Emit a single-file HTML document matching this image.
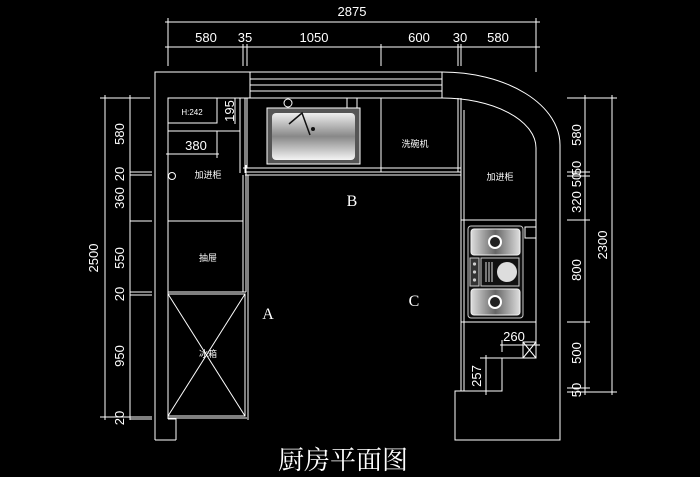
<!DOCTYPE html>
<html><head><meta charset="utf-8"><style>
html,body{margin:0;padding:0;background:#000;width:700px;height:477px;overflow:hidden}
svg{display:block}
text{fill:#fff;font-family:"Liberation Sans","Noto Sans CJK SC",sans-serif}
</style></head><body>
<svg width="700" height="477" viewBox="0 0 700 477" xmlns="http://www.w3.org/2000/svg">
<defs>
<linearGradient id="g" x1="0" y1="0" x2="0" y2="1"><stop offset="0" stop-color="#eee"/><stop offset=".5" stop-color="#888"/><stop offset="1" stop-color="#f4f4f4"/></linearGradient>
<linearGradient id="g2" x1="0" y1="0" x2="1" y2="0"><stop offset="0" stop-color="#ddd"/><stop offset=".5" stop-color="#666"/><stop offset="1" stop-color="#ddd"/></linearGradient>
</defs>
<g stroke="#fff" stroke-width="1" fill="none">
<line x1="165" y1="22" x2="540" y2="22"/>
<line x1="165" y1="47" x2="540" y2="47"/>
<line x1="168" y1="18" x2="168" y2="66"/><line x1="536" y1="18" x2="536" y2="72"/>
<line x1="243" y1="44" x2="243" y2="66"/><line x1="247" y1="44" x2="247" y2="66"/>
<line x1="381" y1="44" x2="381" y2="66"/>
<line x1="458" y1="44" x2="458" y2="66"/><line x1="461" y1="44" x2="461" y2="66"/>
<line x1="105" y1="95" x2="105" y2="420"/>
<line x1="130" y1="95" x2="130" y2="420"/>
<line x1="100" y1="98" x2="150" y2="98"/>
<line x1="130" y1="172" x2="152" y2="172"/><line x1="130" y1="175" x2="152" y2="175"/>
<line x1="130" y1="221" x2="152" y2="221"/>
<line x1="130" y1="292" x2="152" y2="292"/><line x1="130" y1="295" x2="152" y2="295"/>
<line x1="100" y1="417" x2="152" y2="417"/><line x1="130" y1="419" x2="152" y2="419"/>
<line x1="585" y1="95" x2="585" y2="395"/>
<line x1="612" y1="95" x2="612" y2="395"/>
<line x1="567" y1="98" x2="617" y2="98"/>
<line x1="567" y1="172" x2="590" y2="172"/><line x1="567" y1="176" x2="590" y2="176"/>
<line x1="567" y1="220" x2="590" y2="220"/>
<line x1="567" y1="322" x2="590" y2="322"/>
<line x1="567" y1="388" x2="590" y2="388"/>
<line x1="567" y1="392" x2="617" y2="392"/>
<path d="M155 440 L155 72 L442 72 A118 73 0 0 1 560 145 L560 440 L455 440 L455 391 L461 391"/>
<path d="M176 440 L176 419 L168 419"/>
<line x1="155" y1="440" x2="176" y2="440"/>
<rect x="250" y="72" width="192" height="26"/>
<line x1="250" y1="79" x2="442" y2="79"/><line x1="250" y1="85" x2="442" y2="85"/><line x1="250" y1="91" x2="442" y2="91"/>
<line x1="168" y1="98" x2="442" y2="98"/>
<path d="M442 98 A94 50 0 0 1 536 148 L536 358 L502 358 L502 391 L461 391"/>
<line x1="168" y1="98" x2="168" y2="419"/>
<line x1="240" y1="98" x2="240" y2="173"/><line x1="245" y1="98" x2="245" y2="173"/>
<rect x="168" y="98" width="49" height="25"/>
<line x1="168" y1="131" x2="240" y2="131"/>
<line x1="217" y1="131" x2="217" y2="158"/>
<line x1="166" y1="154" x2="219" y2="154"/>
<line x1="235" y1="98" x2="235" y2="124"/>
<circle cx="172" cy="176" r="3.5"/>
<line x1="168" y1="221" x2="243" y2="221"/>
<line x1="243" y1="175" x2="243" y2="292"/><line x1="246" y1="165" x2="246" y2="292"/>
<line x1="168" y1="292" x2="246" y2="292"/>
<rect x="168" y="294" width="77" height="122"/>
<line x1="168" y1="294" x2="245" y2="416"/><line x1="245" y1="294" x2="168" y2="416"/>
<line x1="168" y1="418" x2="247" y2="418"/>
<line x1="247" y1="98" x2="247" y2="168"/>
<line x1="381" y1="98" x2="381" y2="172"/>
<line x1="458" y1="98" x2="458" y2="172"/>
<line x1="347" y1="98" x2="347" y2="108"/><line x1="357" y1="98" x2="357" y2="108"/>
<circle cx="288" cy="103" r="4"/>
<line x1="243" y1="168" x2="461" y2="168"/>
<line x1="245" y1="172" x2="461" y2="172"/>
<line x1="245" y1="175" x2="461" y2="175"/>
<line x1="248" y1="175" x2="248" y2="420"/>
<line x1="461" y1="98" x2="461" y2="391"/><line x1="464" y1="110" x2="464" y2="391"/>
<line x1="461" y1="220" x2="536" y2="220"/>
<line x1="461" y1="322" x2="536" y2="322"/>
<rect x="525" y="227" width="11" height="11"/>
<rect x="523" y="342" width="13" height="16"/>
<line x1="523" y1="342" x2="536" y2="358"/><line x1="536" y1="342" x2="523" y2="358"/>
<line x1="500" y1="345" x2="540" y2="345"/>
<line x1="502" y1="340" x2="502" y2="352"/>
<line x1="486" y1="355" x2="486" y2="395"/>
<line x1="480" y1="358" x2="502" y2="358"/>
</g>
<rect x="267" y="108" width="93" height="56" fill="#555" stroke="#fff"/>
<rect x="272" y="113" width="83" height="47" rx="4" fill="url(#g)"/>
<path d="M289 124 L302 113 L310 135" stroke="#111" stroke-width="1.5" fill="none"/>
<circle cx="313" cy="129" r="2" fill="#111"/>
<rect x="468" y="226" width="55" height="92" rx="3" fill="#111" stroke="#ccc"/>
<rect x="471" y="229" width="49" height="26" rx="3" fill="url(#g2)" stroke="#eee"/>
<rect x="471" y="289" width="49" height="26" rx="3" fill="url(#g2)" stroke="#eee"/>
<circle cx="495" cy="242" r="6" fill="#222" stroke="#fff" stroke-width="2"/>
<circle cx="495" cy="302" r="6" fill="#222" stroke="#fff" stroke-width="2"/>
<rect x="470" y="258" width="9" height="28" fill="#333" stroke="#ccc"/>
<g fill="#ccc"><circle cx="474.5" cy="264" r="1.6"/><circle cx="474.5" cy="272" r="1.6"/><circle cx="474.5" cy="280" r="1.6"/></g>
<rect x="481" y="258" width="38" height="28" fill="#111" stroke="#ccc"/>
<circle cx="507" cy="272" r="10" fill="#ddd"/>
<g stroke="#ddd"><line x1="486" y1="262" x2="486" y2="282"/><line x1="489" y1="262" x2="489" y2="282"/><line x1="492" y1="262" x2="492" y2="282"/></g>
<g font-size="13" text-anchor="middle">
<text x="352" y="16">2875</text>
<text x="206" y="42">580</text>
<text x="245" y="42">35</text>
<text x="314" y="42">1050</text>
<text x="419" y="42">600</text>
<text x="460" y="42">30</text>
<text x="498" y="42">580</text>
<text x="196" y="150">380</text>
<text x="514" y="341">260</text>
</g>
<g font-size="13" text-anchor="middle">
<text transform="translate(124,134) rotate(-90)">580</text>
<text transform="translate(124,174) rotate(-90)">20</text>
<text transform="translate(124,198) rotate(-90)">360</text>
<text transform="translate(124,258) rotate(-90)">550</text>
<text transform="translate(124,294) rotate(-90)">20</text>
<text transform="translate(124,356) rotate(-90)">950</text>
<text transform="translate(124,418) rotate(-90)">20</text>
<text transform="translate(98,258) rotate(-90)">2500</text>
<text transform="translate(234,111) rotate(-90)">195</text>
<text transform="translate(581,135) rotate(-90)">580</text>
<text transform="translate(581,168) rotate(-90)">50</text>
<text transform="translate(581,180) rotate(-90)">50</text>
<text transform="translate(581,202) rotate(-90)">320</text>
<text transform="translate(581,270) rotate(-90)">800</text>
<text transform="translate(581,353) rotate(-90)">500</text>
<text transform="translate(581,390) rotate(-90)">50</text>
<text transform="translate(607,245) rotate(-90)">2300</text>
<text transform="translate(481,376) rotate(-90)">257</text>
</g>
<g font-size="9" text-anchor="middle">
<text x="192" y="115" font-size="8">H:242</text>
<text x="208" y="178">加进柜</text>
<text x="208" y="261">抽屉</text>
<text x="208" y="357">冰箱</text>
<text x="415" y="147">洗碗机</text>
<text x="500" y="180">加进柜</text>
</g>
<g font-size="16" text-anchor="middle">
<text x="352" y="206" style="font-family:'Liberation Serif',serif">B</text>
<text x="268" y="319" style="font-family:'Liberation Serif',serif">A</text>
<text x="414" y="306" style="font-family:'Liberation Serif',serif">C</text>
</g>
<text x="343" y="469" font-size="26" text-anchor="middle" style="font-family:'Noto Serif CJK SC','Noto Sans CJK SC',serif">厨房平面图</text>
</svg>
</body></html>
